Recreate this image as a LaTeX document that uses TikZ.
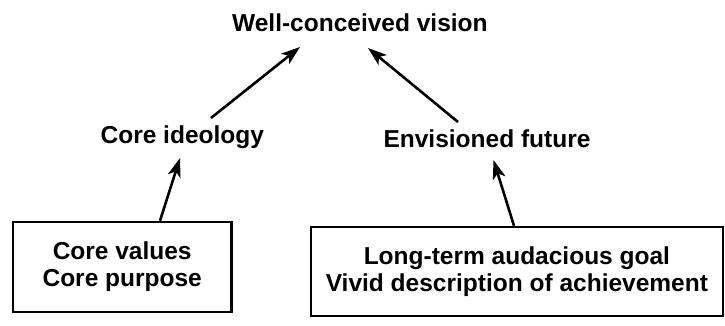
\documentclass[tikz,border=0pt]{standalone}
\usepackage{fontspec}
\setmainfont{Liberation Sans}
\usetikzlibrary{arrows.meta}
\tikzset{
  txtfont/.style={font=\bfseries\fontsize{24.5}{27}\selectfont},
  lbl/.style={txtfont, inner sep=0pt, anchor=base},
  boxnode/.style={txtfont, draw, line width=2.4pt, align=center, inner sep=0pt},
  arr/.style={line width=2.6pt, -{Stealth[length=19pt,width=13pt,inset=5pt]}}
}
\begin{document}
\begin{tikzpicture}[x=1pt,y=-1pt]
\useasboundingbox[fill=white] (0,0) rectangle (725,325);
\node[lbl] (wv) at (359.9,31.5) {Well-conceived vision};
\node[lbl] (ci) at (182.3,143.5) {Core ideology};
\node[lbl] (ef) at (487,147.5) {Envisioned future};
\node[boxnode, minimum width=218.6pt, minimum height=90pt] (b1) at (122.2,267) {Core values\\Core purpose};
\node[boxnode, minimum width=412.3pt, minimum height=89pt] (b2) at (516.9,271.5) {Long-term audacious goal\\Vivid description of achievement};
\draw[arr] ([shift={(28.7,-25.5)}]ci.base) -- ([shift={(-59.9,15.5)}]wv.base);
\draw[arr] ([shift={(-29,-25.5)}]ef.base) -- ([shift={(8.1,16.5)}]wv.base);
\draw[arr] ([xshift=37.8pt]b1.north) -- ([shift={(-2.3,14.5)}]ci.base);
\draw[arr] ([xshift=-2.9pt]b2.north) -- ([shift={(6.5,12.5)}]ef.base);
\end{tikzpicture}
\end{document}
